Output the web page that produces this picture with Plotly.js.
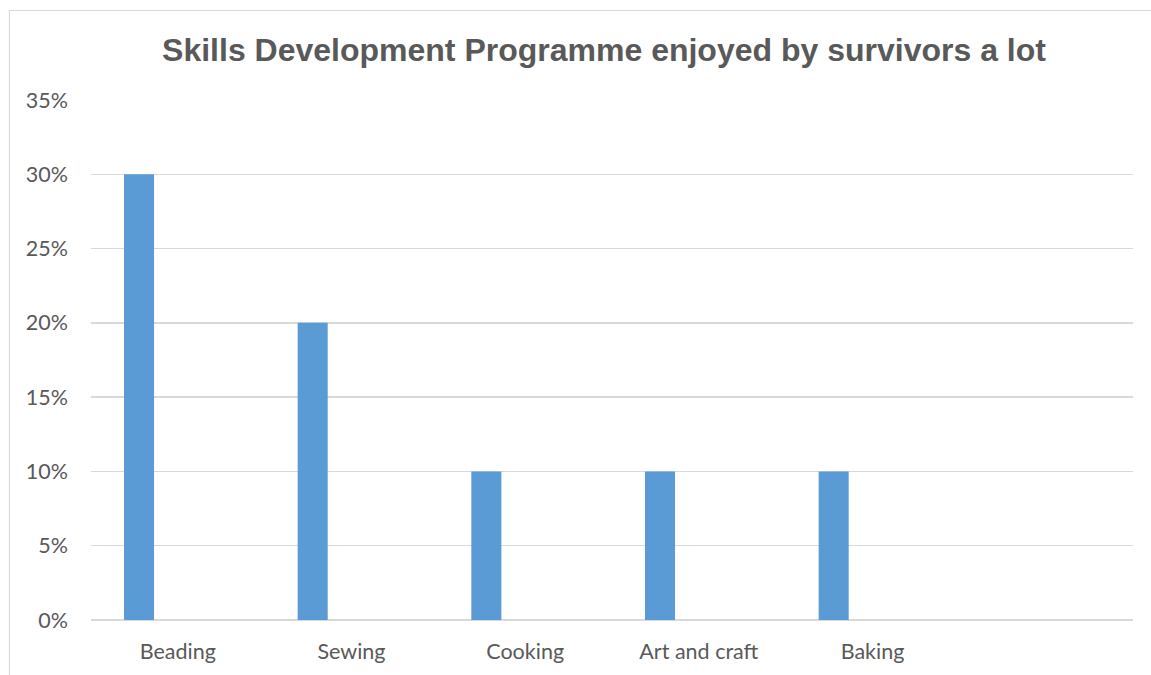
<!DOCTYPE html>
<html>
<head>
<meta charset="utf-8">
<script src="https://cdn.plot.ly/plotly-3.0.1.min.js"></script>
<style>
  html, body { margin: 0; padding: 0; background: #ffffff; }
  #chart { width: 1151px; height: 675px; }
</style>
</head>
<body>
<div id="chart"></div>
<script>
// Data
const categories = ['Beading', 'Sewing', 'Cooking', 'Art and craft', 'Baking'];
const values = [0.30, 0.20, 0.10, 0.10, 0.10];
const allSlots = categories.concat([' ']);
const yTickVals = [0, 0.05, 0.10, 0.15, 0.20, 0.25, 0.30, 0.35];

const W = 1151, H = 675;
const margin = { l: 91, r: 18, t: 100, b: 55 };
const pw = W - margin.l - margin.r, ph = H - margin.t - margin.b;
const px2x = p => (p - margin.l) / pw;
const px2y = p => (H - margin.b - p) / ph;

const trace = {
  type: 'bar',
  x: categories,
  y: values,
  width: 0.173,
  offset: -0.310,
  marker: { color: '#5b9bd5', line: { width: 0 } },
  hoverinfo: 'x+y'
};

const layout = {
  width: W, height: H,
  margin: margin,
  paper_bgcolor: '#ffffff',
  plot_bgcolor: '#ffffff',
  showlegend: false,
  title: {
    text: 'Skills Development Programme enjoyed by survivors a lot',
    font: { family: 'Liberation Sans, Arial, sans-serif', size: 32, color: '#595959', weight: 'bold' },
    x: px2x(604) * pw / W + margin.l / W, xanchor: 'center', xref: 'container',
    y: 1 - 50 / H, yanchor: 'middle'
  },
  xaxis: {
    type: 'category',
    categoryorder: 'array',
    categoryarray: allSlots,
    range: [-0.5, 5.5],
    showgrid: false,
    zeroline: false,
    showline: false,
    ticks: '',
    ticklabelstandoff: 16,
    tickfont: { family: 'Lato, Carlito, Calibri, sans-serif', size: 21.5, color: '#595959' },
    fixedrange: true
  },
  yaxis: {
    range: [0, 0.35],
    tickvals: yTickVals,
    tickformat: '.0%',
    showgrid: true,
    gridcolor: '#d9d9d9',
    gridwidth: 1.5,
    zeroline: true,
    zerolinecolor: '#d9d9d9',
    zerolinewidth: 1.5,
    showline: false,
    ticks: '',
    ticklabelstandoff: 22,
    tickfont: { family: 'Lato, Carlito, Calibri, sans-serif', size: 21.5, color: '#595959' },
    fixedrange: true
  },
  shapes: [{
    type: 'path',
    xref: 'paper', yref: 'paper',
    path: 'M ' + px2x(9.5) + ' ' + px2y(680) + ' L ' + px2x(9.5) + ' ' + px2y(10.5) + ' L ' + px2x(1160) + ' ' + px2y(10.5),
    line: { color: '#d9d9d9', width: 1.2 },
    layer: 'below'
  }]
};

Plotly.newPlot('chart', [trace], layout, { displayModeBar: false, staticPlot: true });
</script>
</body>
</html>
